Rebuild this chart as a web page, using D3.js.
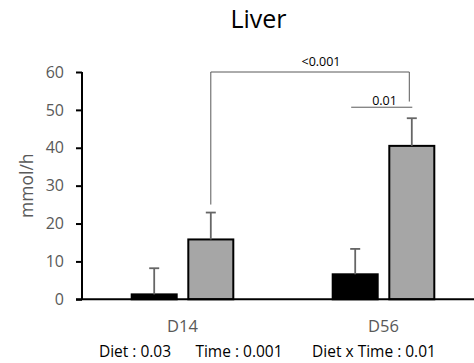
<!DOCTYPE html>
<html>
<head>
<meta charset="utf-8">
<script src="https://cdn.jsdelivr.net/npm/d3@7"></script>
<style>
  html, body { margin: 0; padding: 0; background: #fff; }
  svg { display: block; }
  text { font-family: "Open Sans", "Liberation Sans", sans-serif; }
</style>
</head>
<body>
<svg id="chart" width="474" height="363"></svg>
<script>
// ---- data ----
const categories = ["D14", "D56"];
const seriesNames = ["Group A", "Group B"];
const seriesA = [1.3, 6.6];
const seriesB = [15.8, 40.5];
const errorsA = [6.9, 6.7];
const errorsB = [7.1, 7.3];
const yTicks = [0, 10, 20, 30, 40, 50, 60];
const title = "Liver";
const yLabel = "mmol/h";
const statLabels = ["Diet : 0.03", "Time : 0.001", "Diet x Time : 0.01"];
const bracketLabels = ["<0.001", "0.01"];

const seriesValues = [seriesA, seriesB];
const seriesErrors = [errorsA, errorsB];
const seriesFill = ["#000000", "#a6a6a6"];

const svg = d3.select("#chart");

const x0 = d3.scaleBand().domain(categories).range([82, 484]).paddingInner(0).paddingOuter(0);
const x1 = d3.scaleBand().domain(seriesNames).range([0, x0.bandwidth()]).paddingInner(0.205).paddingOuter(0.878);
const y = d3.scaleLinear().domain([0, 60]).range([299.3, 72]);

// title
svg.append("text").attr("x", 258.5).attr("y", 28).attr("text-anchor", "middle")
  .attr("font-size", 25).attr("fill", "#000").text(title);

// y axis
const yAxis = svg.append("g").attr("transform", "translate(82,0)")
  .call(d3.axisLeft(y).tickValues(yTicks).tickSize(6).tickPadding(12).tickFormat(d3.format("d")));
yAxis.select(".domain").attr("stroke", "#000").attr("stroke-width", 2).attr("d", `M0,${y(60)}V${y(0)}`);
yAxis.selectAll(".tick line").attr("stroke", "#000").attr("stroke-width", 2);
yAxis.selectAll(".tick text").attr("fill", "#595959").attr("font-size", 16)
  .attr("font-family", "'Open Sans', sans-serif");

// y label
svg.append("text").attr("transform", `translate(33,${(y(0) + y(60)) / 2}) rotate(-90)`)
  .attr("text-anchor", "middle").attr("font-size", 17.5).attr("fill", "#595959").text(yLabel);

// bars
const groups = svg.append("g").selectAll("g").data(categories).join("g")
  .attr("transform", d => `translate(${x0(d)},0)`);

seriesNames.forEach((s, si) => {
  groups.append("rect")
    .attr("x", x1(s))
    .attr("width", x1.bandwidth())
    .attr("y", (d, i) => y(seriesValues[si][i]))
    .attr("height", (d, i) => y(0) - y(seriesValues[si][i]))
    .attr("fill", seriesFill[si])
    .attr("stroke", "#000").attr("stroke-width", 2);
  // error bars
  groups.append("line")
    .attr("x1", x1(s) + x1.bandwidth() / 2).attr("x2", x1(s) + x1.bandwidth() / 2)
    .attr("y1", (d, i) => y(seriesValues[si][i]))
    .attr("y2", (d, i) => y(seriesValues[si][i] + seriesErrors[si][i]))
    .attr("stroke", "#666").attr("stroke-width", 1.8);
  groups.append("line")
    .attr("x1", x1(s) + x1.bandwidth() / 2 - 5).attr("x2", x1(s) + x1.bandwidth() / 2 + 5)
    .attr("y1", (d, i) => y(seriesValues[si][i] + seriesErrors[si][i]))
    .attr("y2", (d, i) => y(seriesValues[si][i] + seriesErrors[si][i]))
    .attr("stroke", "#666").attr("stroke-width", 1.8);
});

// baseline
svg.append("line").attr("x1", 76).attr("x2", 474).attr("y1", y(0)).attr("y2", y(0))
  .attr("stroke", "#000").attr("stroke-width", 2);

// category labels
svg.append("g").selectAll("text").data(categories).join("text")
  .attr("x", d => x0(d) + x0.bandwidth() / 2)
  .attr("y", 332).attr("text-anchor", "middle")
  .attr("font-size", 16.5).attr("fill", "#595959").text(d => d);

// stats row
const statX = [135, 239, 374];
svg.append("g").selectAll("text").data(statLabels).join("text")
  .attr("x", (d, i) => statX[i]).attr("y", 356.5).attr("text-anchor", "middle")
  .attr("font-size", 15.5).attr("fill", "#000").text(d => d);

// brackets
const cx = (cat, s) => x0(cat) + x1(s) + x1.bandwidth() / 2;
const bL = cx("D14", seriesNames[1]);
const bR = cx("D56", seriesNames[1]) - 2.5;
const topY = y(60);
const br = svg.append("g").attr("stroke", "#595959").attr("stroke-width", 1).attr("fill", "none");
br.append("path").attr("d", `M${bL},${y(seriesB[0] + errorsB[0]) - 8}V${topY}H${bR}V${y(52.2)}`);
br.append("line").attr("x1", cx("D56", seriesNames[0]) - 4).attr("x2", cx("D56", seriesNames[1]) + 0.5)
  .attr("y1", y(50.7)).attr("y2", y(50.7));

svg.append("text").attr("x", 321).attr("y", 66).attr("text-anchor", "middle")
  .attr("font-size", 12.5).attr("fill", "#000").text(bracketLabels[0]);
svg.append("text").attr("x", 384.5).attr("y", 105).attr("text-anchor", "middle")
  .attr("font-size", 12.5).attr("fill", "#000").text(bracketLabels[1]);
</script>
</body>
</html>
